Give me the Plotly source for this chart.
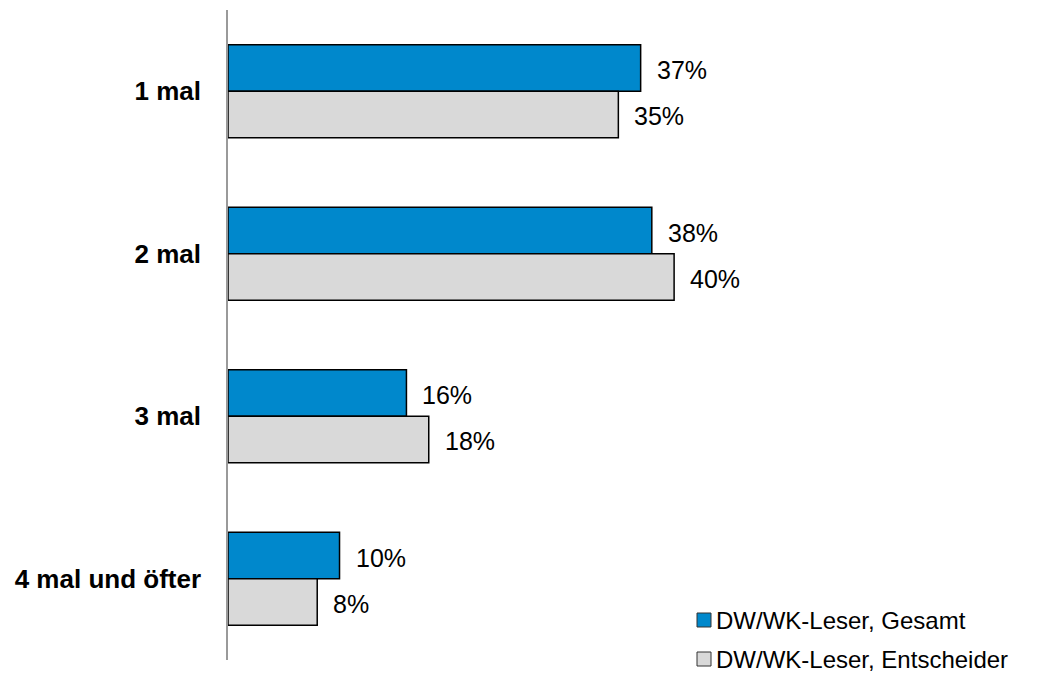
import plotly.graph_objects as go

categories = ["1 mal", "2 mal", "3 mal", "4 mal und öfter"]
gesamt = [37, 38, 16, 10]
entscheider = [35, 40, 18, 8]
series_names = ["DW/WK-Leser, Gesamt", "DW/WK-Leser, Entscheider"]

BLUE = "#0088CC"
GREY = "#D9D9D9"
BAR_W = 0.286  # height of each bar in category units
FONT = "Liberation Sans, Arial"

W, H = 1046, 674
M_L, M_R, M_T, M_B = 228, 15, 10, 14
PLOT_W = W - M_L - M_R
PLOT_H = H - M_T - M_B

idx = list(range(len(categories)))
colors = [BLUE, GREY]

fig = go.Figure()
fig.add_trace(go.Bar(
    y=idx, x=gesamt, orientation="h", name=series_names[0],
    width=BAR_W, offset=-BAR_W,
    marker=dict(color=BLUE, line=dict(color="#000000", width=1.5)),
))
fig.add_trace(go.Bar(
    y=idx, x=entscheider, orientation="h", name=series_names[1],
    width=BAR_W, offset=0,
    marker=dict(color=GREY, line=dict(color="#000000", width=1.5)),
))

# value labels to the right of each bar
for i, (a, b) in enumerate(zip(gesamt, entscheider)):
    for val, yc in ((a, i - BAR_W / 2), (b, i + BAR_W / 2)):
        fig.add_annotation(
            x=val, y=yc, text=f"{val}%", showarrow=False,
            xanchor="left", yanchor="middle", xshift=14, yshift=-2,
            font=dict(family=FONT, size=25, color="#000000"),
        )

# legend drawn as squares + text in the lower right corner
def px_x(p):
    return (p - M_L) / PLOT_W

def px_y(p):
    return (H - M_B - p) / PLOT_H

for k, (name, col) in enumerate(zip(series_names, colors)):
    cy = 620 + 39 * k
    fig.add_shape(
        type="rect", xref="paper", yref="paper",
        x0=px_x(697), x1=px_x(711), y0=px_y(cy + 7), y1=px_y(cy - 7),
        fillcolor=col, line=dict(color="#333333", width=1),
    )
    fig.add_annotation(
        xref="paper", yref="paper", x=px_x(714), y=px_y(cy),
        text=name, showarrow=False, xanchor="left", yanchor="middle",
        font=dict(family=FONT, size=24, color="#000000"),
    )

fig.update_layout(
    width=W, height=H,
    margin=dict(l=M_L, r=M_R, t=M_T, b=M_B, autoexpand=False),
    paper_bgcolor="white", plot_bgcolor="white",
    barmode="overlay",
    showlegend=False,
    font=dict(family=FONT, color="#000000"),
)
fig.update_xaxes(range=[0, 72], visible=False, showgrid=False, zeroline=False)
fig.update_yaxes(
    range=[3.5, -0.5], tickmode="array", tickvals=idx,
    ticktext=[f"<b>{c}</b>" for c in categories],
    tickfont=dict(family=FONT, size=26, color="#000000"),
    showline=True, linecolor="#9A9A9A", linewidth=1.5,
    showgrid=False, zeroline=False, ticks="", ticklabelstandoff=20,
)

fig.write_html("out.html")
